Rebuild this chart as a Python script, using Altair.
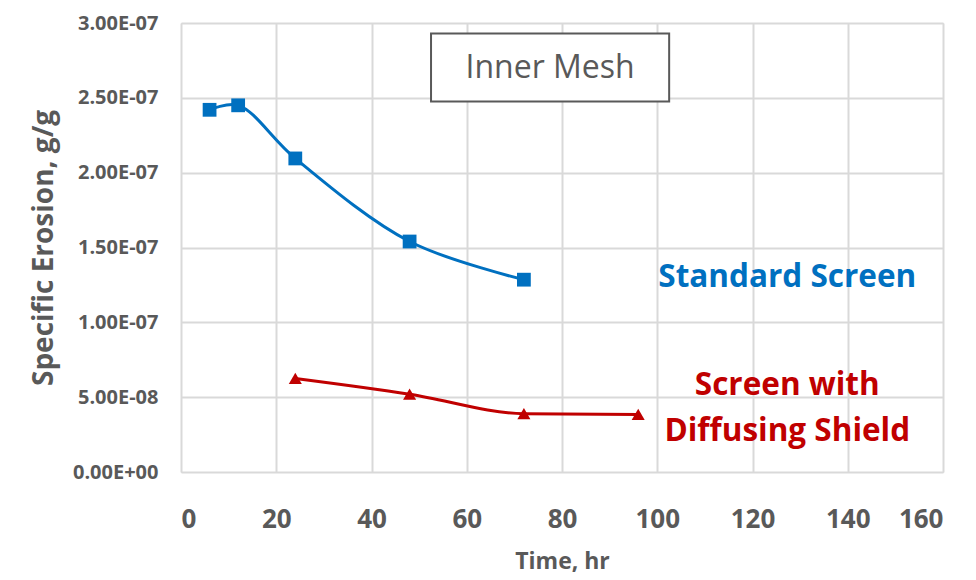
import altair as alt
import pandas as pd

# Data
std_time = [6, 12, 24, 48, 72]
std_erosion = [2.42e-7, 2.45e-7, 2.095e-7, 1.54e-7, 1.285e-7]
shield_time = [24, 48, 72, 96]
shield_erosion = [6.25e-8, 5.2e-8, 3.9e-8, 3.85e-8]

x_ticks = [0, 20, 40, 60, 80, 100, 120, 140, 160]
y_ticks = [0, 5e-8, 1e-7, 1.5e-7, 2e-7, 2.5e-7, 3e-7]

BLUE = "#0070C0"
RED = "#C00000"
GRAY = "#595959"
FONT = "Open Sans"

std_df = pd.DataFrame({"t": std_time, "e": std_erosion})
shield_df = pd.DataFrame({"t": shield_time, "e": shield_erosion})

xs = alt.Scale(domain=[0, 160], nice=False)
ys = alt.Scale(domain=[0, 3e-7], nice=False)

EXP = "floor(log(datum.value)/LN10 + 1e-9)"
y_label_expr = (
    "datum.value == 0 ? '0.00E+00' : format(datum.value / pow(10, " + EXP + "), '.2f') + 'E' + ("
    + EXP + " < 0 ? '-' : '+') + (abs(" + EXP + ") < 10 ? '0' : '') + abs(" + EXP + ")"
)

x_enc = alt.X("t:Q", scale=xs, title="Time, hr",
              axis=alt.Axis(values=x_ticks, grid=True, ticks=False, domain=False,
                            labelFontSize=26, labelFontWeight="bold", labelColor=GRAY, labelFont=FONT,
                            labelPadding=34, titleFontSize=23, titleFont=FONT,
                            titleColor=GRAY, titleFontWeight="bold", titlePadding=18,
                            gridColor="#d9d9d9", gridWidth=2))
y_enc = alt.Y("e:Q", scale=ys, title="Specific Erosion, g/g",
              axis=alt.Axis(values=y_ticks, grid=True, ticks=False, domain=False,
                            labelExpr=y_label_expr,
                            labelFontSize=20, labelFontWeight="bold", labelColor=GRAY,
                            labelFont=FONT, labelPadding=23,
                            titleFontSize=28, titleFont=FONT, titleColor=GRAY,
                            titleFontWeight="bold", titlePadding=14,
                            gridColor="#d9d9d9", gridWidth=2))

std_line = alt.Chart(std_df).mark_line(color=BLUE, strokeWidth=3, interpolate="catmull-rom").encode(x=x_enc, y=y_enc)
std_pts = alt.Chart(std_df).mark_point(shape="square", filled=True, opacity=1, color=BLUE, size=190).encode(x="t:Q", y="e:Q")
sh_line = alt.Chart(shield_df).mark_line(color=RED, strokeWidth=3, interpolate="monotone").encode(x="t:Q", y="e:Q")
sh_pts = alt.Chart(shield_df).mark_point(shape="triangle-up", filled=True, opacity=1, color=RED, size=170).encode(x="t:Q", y="e:Q")

# Annotation box "Inner Mesh"
box_df = pd.DataFrame({"x1": [52.5], "x2": [102.5], "y1": [2.93e-7], "y2": [2.475e-7]})
box = alt.Chart(box_df).mark_rect(fill="white", stroke=GRAY, strokeWidth=2).encode(
    x="x1:Q", x2="x2:Q", y="y1:Q", y2="y2:Q")

lab_df = pd.DataFrame({
    "x": [77.5, 127.3, 127.3, 127.3],
    "y": [2.70e-7, 1.295e-7, 0.575e-7, 0.265e-7],
    "txt": ["Inner Mesh", "Standard Screen", "Screen with", "Diffusing Shield"],
})
inner = alt.Chart(lab_df.iloc[[0]]).mark_text(fontSize=32, font=FONT, color=GRAY).encode(
    x="x:Q", y="y:Q", text="txt:N")
std_lab = alt.Chart(lab_df.iloc[[1]]).mark_text(fontSize=31.5, font=FONT, fontWeight="bold", color=BLUE).encode(
    x="x:Q", y="y:Q", text="txt:N")
sh_lab = alt.Chart(lab_df.iloc[[2, 3]]).mark_text(fontSize=31.5, font=FONT, fontWeight="bold", color=RED).encode(
    x="x:Q", y="y:Q", text="txt:N")

chart = alt.layer(std_line, sh_line, std_pts, sh_pts, box, inner, std_lab, sh_lab).properties(
    width=762, height=449,
    autosize=alt.AutoSizeParams(type="none"),
    padding={"left": 173, "top": 15, "right": 20, "bottom": 108},
).configure_view(stroke=GRAY, strokeWidth=2).configure(background="white")

chart.save("out.html", embed_options={"renderer": "svg", "actions": False})
